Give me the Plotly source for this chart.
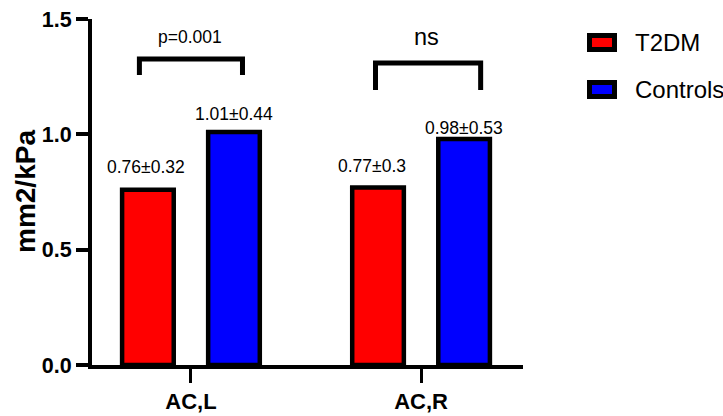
import plotly.graph_objects as go

# ---------------- data ----------------
categories = ["AC,L", "AC,R"]
series_names = ["T2DM", "Controls"]
t2dm_mean = [0.76, 0.77]
t2dm_sd = [0.32, 0.30]
controls_mean = [1.01, 0.98]
controls_sd = [0.44, 0.53]
sig_labels = ["p=0.001", "ns"]
y_tick_vals = [0.0, 0.5, 1.0, 1.5]
y_tick_text = ["0.0", "0.5", "1.0", "1.5"]
y_title = "mm2/kPa"

# ---------------- style ----------------
W, H = 723, 416
ML, MR, MT, MB = 92, 200, 19, 51
PW, PH = W - ML - MR, H - MT - MB
FONT = "Liberation Sans, Arial, sans-serif"
colors = ["#FF0000", "#0000FF"]
BARGAP = 0.252
BARGROUPGAP = 0.40
slot = (1 - BARGAP) / 2

# per-label pixel nudges (xshift, yshift) for value labels, by series then category
label_shift = [[(-2, 23), (-6, 21)], [(0, 18), (0, 11)]]
# bracket geometry relative to category index
brackets = [
    dict(x0=-0.224, x1=0.224, top=1.327, bottom=1.257, tx=-0.002, ty=1.42, size=17.5),
    dict(x0=-0.198, x1=0.259, top=1.309, bottom=1.192, tx=0.022, ty=1.42, size=23.5),
]

def px_x(p):
    return (p - ML) / PW

def px_y(p):
    return (H - MB - p) / PH

xs = list(range(len(categories)))
means = [t2dm_mean, controls_mean]
sds = [t2dm_sd, controls_sd]

fig = go.Figure()
for s, name in enumerate(series_names):
    fig.add_trace(go.Bar(
        x=xs, y=means[s], name=name,
        marker=dict(color=colors[s], line=dict(color="black", width=4.5)),
        showlegend=False,
    ))

annotations = []
shapes = []
# value labels
for s in range(len(series_names)):
    offset = (-slot / 2) if s == 0 else (slot / 2)
    for i, xv in enumerate(xs):
        txt = f"{means[s][i]:.2f}±{sds[s][i]:g}"
        dx, dy = label_shift[s][i]
        annotations.append(dict(
            x=xv + offset, y=means[s][i], xref="x", yref="y",
            text=txt, showarrow=False, xanchor="center", yanchor="middle",
            xshift=dx, yshift=dy,
            font=dict(family=FONT, size=17.5, color="black"),
        ))

# significance brackets
for i, (lab, b) in enumerate(zip(sig_labels, brackets)):
    x0, x1 = xs[i] + b["x0"], xs[i] + b["x1"]
    shapes.append(dict(
        type="path", xref="x", yref="y",
        path=f"M {x0},{b['bottom']} L {x0},{b['top']} L {x1},{b['top']} L {x1},{b['bottom']}",
        line=dict(color="black", width=5),
    ))
    annotations.append(dict(
        x=xs[i] + b["tx"], y=b["ty"], xref="x", yref="y", text=lab,
        showarrow=False, xanchor="center", yanchor="middle",
        font=dict(family=FONT, size=b["size"], color="black"),
    ))

# custom legend
leg_rows = [42.5, 89.5]
for s, name in enumerate(series_names):
    yc = leg_rows[s]
    shapes.append(dict(
        type="rect", xref="paper", yref="paper",
        x0=px_x(589.5), x1=px_x(614.5), y0=px_y(yc - 7), y1=px_y(yc + 7),
        fillcolor=colors[s], line=dict(color="black", width=5),
    ))
    annotations.append(dict(
        x=px_x(633), y=px_y(yc), xref="paper", yref="paper", text=name,
        showarrow=False, xanchor="left", yanchor="middle",
        font=dict(family=FONT, size=24, color="black"),
    ))

# y axis title
annotations.append(dict(
    x=px_x(25), y=0.5, xref="paper", yref="paper", text=f"<b>{y_title}</b>",
    textangle=-90, showarrow=False, xanchor="center", yanchor="middle",
    font=dict(family=FONT, size=28, color="black"),
))

fig.update_layout(
    width=W, height=H,
    margin=dict(l=ML, r=MR, t=MT, b=MB, pad=0, autoexpand=False),
    plot_bgcolor="white", paper_bgcolor="white",
    barmode="group", bargap=BARGAP, bargroupgap=BARGROUPGAP,
    showlegend=False,
    shapes=shapes, annotations=annotations,
    xaxis=dict(
        range=[-0.43, 1.443], tickmode="array", tickvals=xs, ticktext=categories,
        showline=True, linewidth=4, linecolor="black",
        ticks="outside", ticklen=14, tickwidth=3, tickcolor="black",
        tickfont=dict(family=FONT, size=22, color="black", weight="bold"),
        showgrid=False, zeroline=False, fixedrange=True, automargin=False,
    ),
    yaxis=dict(
        range=[0, 1.5], tickmode="array", tickvals=y_tick_vals, ticktext=y_tick_text,
        showline=True, linewidth=4, linecolor="black",
        ticks="outside", ticklen=12, tickwidth=4, tickcolor="black",
        tickfont=dict(family=FONT, size=21.5, color="black", weight="bold"),
        showgrid=False, zeroline=False, fixedrange=True, automargin=False,
    ),
)

fig.write_html("out.html")
